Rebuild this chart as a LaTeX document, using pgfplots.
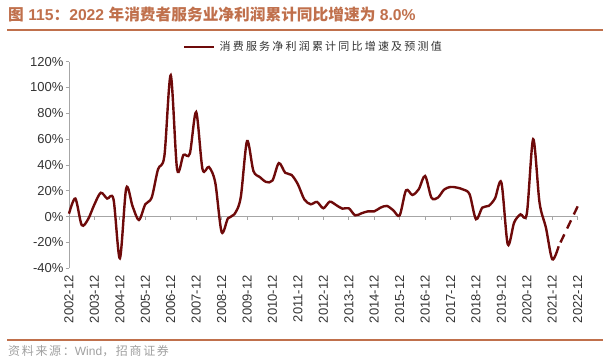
\documentclass[border=0pt]{standalone}
\usepackage{pgfplots}
\pgfplotsset{compat=1.18}
\usepackage{fontspec}
\setmainfont{Liberation Sans}
\newfontfamily\cjk{Noto Sans CJK SC}
\definecolor{linered}{HTML}{6E0A0A}
\definecolor{titlec}{HTML}{C0704C}
\definecolor{axisg}{HTML}{A6A6A6}
\definecolor{tickc}{HTML}{333333}
\definecolor{srcg}{HTML}{A0A0A0}
\begin{document}
\begin{tikzpicture}[x=1bp,y=1bp]
\path[use as bounding box] (0,0) rectangle (610,362);
\node[anchor=base west, inner sep=0, text=titlec, font=\fontsize{15.7bp}{18bp}\selectfont\bfseries] at (8,341.3) {{\cjk 图} 115{\cjk ：}2022 {\cjk 年消费者服务业净利润累计同比增速为} 8.0\%};
\draw[titlec, line width=2bp] (7,332.5) -- (603,332.5);
\draw[titlec, line width=2bp] (7,22) -- (603,22);
\node[anchor=base west, inner sep=0, text=srcg, font=\fontsize{12bp}{14bp}\selectfont] at (8,7) {{\cjk\addfontfeature{LetterSpace=14}资料来源：}Wind{\cjk\addfontfeature{LetterSpace=14}，招商证券}};
\begin{axis}[
  at={(69bp,93.7bp)}, anchor=south west, scale only axis,
  width=508.7bp, height=206.6bp,
  xmin=0, xmax=80, ymin=-40, ymax=120,
  axis line style={draw=none},
  clip=false,
  xtick={0,4,...,80},
  xticklabels={2002-12,2003-12,2004-12,2005-12,2006-12,2007-12,2008-12,2009-12,2010-12,2011-12,2012-12,2013-12,2014-12,2015-12,2016-12,2017-12,2018-12,2019-12,2020-12,2021-12,2022-12},
  xtick style={draw=none},
  xticklabel style={rotate=90, anchor=east, font=\fontsize{13bp}{13bp}\selectfont, text=tickc},
  ytick={-40,-20,...,120},
  yticklabels={-40\%,-20\%,0\%,20\%,40\%,60\%,80\%,100\%,120\%},
  ytick pos=left, tick align=outside, major tick length=3.5bp,
  ytick style={draw=axisg, line width=0.8bp},
  yticklabel style={font=\fontsize{13bp}{13bp}\selectfont, text=tickc, xshift=1.5bp},
  legend style={at={(0.2241,1.0712)}, anchor=west, draw=none, fill=none,
    inner xsep=0pt, inner ysep=0pt, nodes={inner sep=0pt}, column sep=4bp,
    font=\fontsize{11bp}{13bp}\selectfont, text=tickc},
  legend image code/.code={\draw[#1] (0bp,0bp) -- (30bp,0bp);},
]
\draw[axisg, line width=0.8bp] (axis cs:0,-40) -- (axis cs:0,120);
\draw[axisg, line width=0.8bp] (axis cs:0,0) -- (axis cs:80,0);
\pgfplotsinvokeforeach{4,8,...,80}{\draw[axisg, line width=0.8bp] (axis cs:#1,0) -- ([yshift=-3bp]axis cs:#1,0);}
\addplot[linered, line width=2.4bp, smooth, tension=0.5] coordinates {
(0,2.3)(1,14)(2,-6.5)(3,-2)(4,9.5)(5,18.5)(6,14)(7,13.4)(8,-32.3)(9,22)(10,8)(11,-2.6)(12,9.6)(13,14.7)(14,36.7)(15,47)(16,109.5)(17,36.7)(18,47.8)(19,48.8)(20,81)(21,36.7)(22,38.5)(23,26.4)(24,-11.9)(25,-1.3)(26,1.8)(27,14.7)(28,58.5)(29,35.4)(30,30.7)(31,26.9)(32,28)(33,41.5)(34,34)(35,32.3)(36,25)(37,13.4)(38,9.6)(39,11.4)(40,6.5)(41,11.6)(42,9)(43,6.2)(44,6.5)(45,1)(46,2.6)(47,4.1)(48,4.1)(49,7)(50,8.3)(51,4.9)(52,1)(53,20.4)(54,16.8)(55,21.2)(56,31.5)(57,14.7)(58,14.7)(59,21)(60,23)(61,22.5)(62,21)(63,17.3)(64,-2)(65,7)(66,8.3)(67,14.2)(68,26.4)(69,-21.4)(70,-4.6)(71,1.8)(72,2.3)(73,60)(74,10.8)(75,-8.5)(76,-33)(77,-23)};
\addlegendentry{\cjk\addfontfeature{LetterSpace=20}消费服务净利润累计同比增速及预测值}
\addplot[linered, line width=2.4bp, dash pattern=on 9bp off 6.5bp, dash phase=11.2bp, forget plot] coordinates {(77,-23)(80,8)};
\end{axis}
\end{tikzpicture}
\end{document}
